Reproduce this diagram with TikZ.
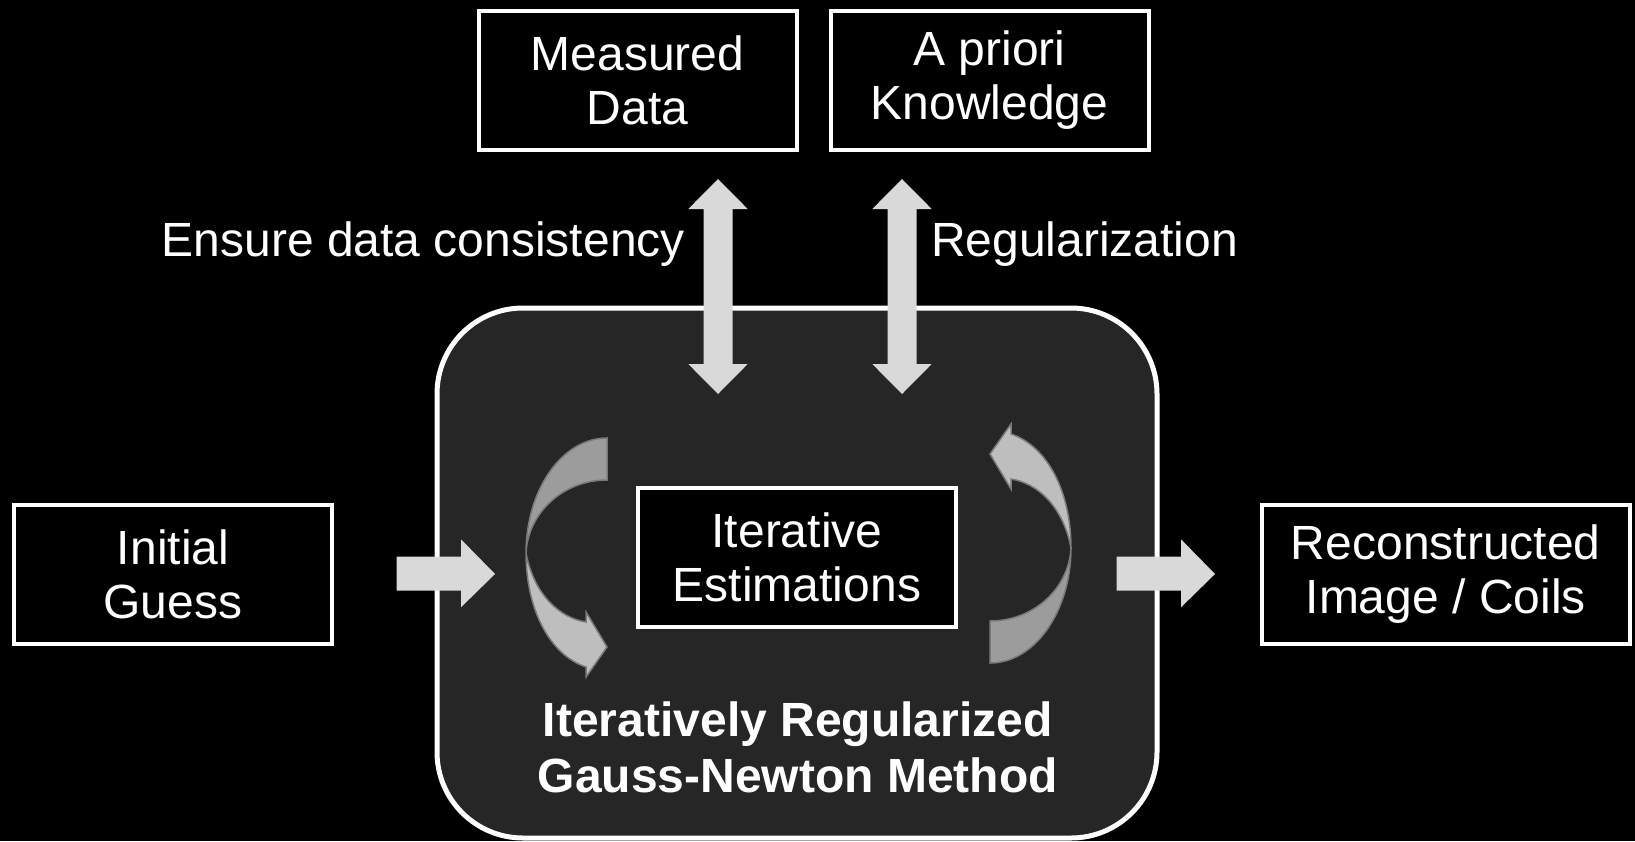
\documentclass[tikz,border=0pt]{standalone}
\usepackage{fontspec}
\setmainfont{Liberation Sans}
\definecolor{panelgray}{HTML}{262626}
\definecolor{arrowgray}{HTML}{D9D9D9}
\definecolor{backgray}{HTML}{9C9C9C}
\definecolor{frontgray}{HTML}{BEBEBE}
\definecolor{edgegray}{HTML}{7A7A7A}

\begin{document}
\begin{tikzpicture}[x=1pt, y=-1pt,
    box/.style={draw=white, line width=4pt, fill=black, text=white, align=center,
      inner sep=0pt, minimum width=318pt, minimum height=139pt,
      font=\fontsize{48}{54}\selectfont},
    lbl/.style={text=white, inner sep=0pt, font=\fontsize{48}{54}\selectfont},
    blockarrow/.style={fill=arrowgray},
    curvarrow/.pic={
      \filldraw[fill=backgray, draw=edgegray, line width=1.5pt]
        (607,438) .. controls (562,438) and (526,490) .. (526,553)
        .. controls (528,513) and (563,480) .. (607,480) -- cycle;
      \filldraw[fill=frontgray, draw=edgegray, line width=1.5pt]
        (526,553) .. controls (534,595) and (560,618) .. (586,622)
        -- (586,612) -- (607,647) -- (586,677) -- (586,667)
        .. controls (550,655) and (526,610) .. (526,553) -- cycle;
    }]
    % 背景
    \fill[black] (0,0) rectangle (1635,841);
    \useasboundingbox (0,0) rectangle (1635,841);
    % 中央の枠
    \node[draw=white, line width=5pt, fill=panelgray, rounded corners=86pt,
      minimum width=720pt, minimum height=530pt] (irgnbox) at (797,573) {};
    \node[lbl, font=\fontsize{48}{56}\selectfont\bfseries, align=center] (irgn) at (797.7,747)
      {Iteratively Regularized\\Gauss-Newton Method};
    % 曲がった矢印
    \pic at (0,0) {curvarrow};
    \pic[rotate=180] at (1597,1101) {curvarrow};
    % 箱
    \node[box] (md) at (637.6,80.3) {Measured\\Data};
    \node[box] (apk) at (989.5,80.3) {A priori\\Knowledge};
    \node[box] (guess) at (173,574) {Initial\\Guess};
    \node[box] (est) at (797,557.4) {Iterative\\Estimations};
    \node[box, minimum width=368pt] (recon) at (1445.7,574) {Reconstructed\\Image / Coils};
    % ラベル
    \node[lbl, anchor=base east] (consist) at (685,256) {Ensure data consistency};
    \node[lbl, anchor=base west] (reg) at (931,256) {Regularization};
    % 両向きの矢印
    \fill[blockarrow] (718,179) -- (747.7,209) -- (732.5,209) -- (732.5,364) -- (747.7,364)
      -- (718,394) -- (688.3,364) -- (703.5,364) -- (703.5,209) -- (688.3,209) -- cycle;
    \fill[blockarrow] (902,179) -- (931.7,209) -- (916.5,209) -- (916.5,364) -- (931.7,364)
      -- (902,394) -- (872.3,364) -- (887.5,364) -- (887.5,209) -- (872.3,209) -- cycle;
    % 右向きの矢印
    \fill[blockarrow] (396.7,556.7) -- (461,556.7) -- (461,539.3) -- (495,574)
      -- (461,607.3) -- (461,590.7) -- (396.7,590.7) -- cycle;
    \fill[blockarrow] (1116.7,556.7) -- (1181,556.7) -- (1181,539.3) -- (1215,574)
      -- (1181,607.3) -- (1181,590.7) -- (1116.7,590.7) -- cycle;
\end{tikzpicture}
\end{document}
